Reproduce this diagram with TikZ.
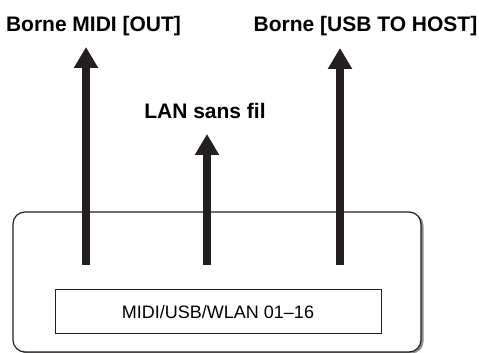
\documentclass[tikz,border=0pt]{standalone}
\usepackage{fontspec}
\setmainfont{Liberation Sans}
\usepackage{tikz}
\usetikzlibrary{arrows.meta,positioning}
\definecolor{InkDark}{RGB}{35,31,32}
\definecolor{ShadowGray}{RGB}{140,140,140}

\begin{document}
\begin{tikzpicture}[
      x=1pt,y=1pt,
      portLabel/.style={font=\fontsize{21}{24}\selectfont\bfseries,text=black,inner sep=0pt},
      panelBox/.style={draw=InkDark,fill=white,rounded corners=12pt,line width=1.2pt,
                       minimum width=408pt,minimum height=140pt,inner sep=0pt},
      chanBox/.style={draw=InkDark,fill=white,line width=1pt,
                      minimum width=326pt,minimum height=44pt,inner sep=0pt,
                      font=\fontsize{18}{21}\selectfont},
      arUp/.style={-{Triangle[width=23pt,length=21pt]},line width=7.5pt,InkDark}
    ]
    \useasboundingbox (0,0) rectangle (479,353);

    % Panel with its shadow
    \fill[ShadowGray,rounded corners=12pt] (15.5,-0.5) rectangle (423.5,139.5);
    \node(panel)[panelBox] at (217,71) {};

    % Channel display
    \node(chan)[chanBox] at (218,41) {MIDI/USB/WLAN 01–16};

    % Port labels
    \node(midiout)[portLabel] at (93.5,327) {Borne MIDI [OUT]};
    \node(usbhost)[portLabel] at (365.5,327) {Borne [USB TO HOST]};
    \node(wlan)[portLabel] at (205,242) {LAN sans fil};

    % Arrow ends
    \coordinate (midiFoot) at (86,88);
    \coordinate (midiTip) at (86,306);
    \coordinate (wlanFoot) at (207,88);
    \coordinate (wlanTip) at (207,219);
    \coordinate (usbFoot) at (340,88);
    \coordinate (usbTip) at (340,305);

    % Upward signal arrows
    \draw[arUp] (midiFoot) -- (midiTip);
    \draw[arUp] (wlanFoot) -- (wlanTip);
    \draw[arUp] (usbFoot) -- (usbTip);
  \end{tikzpicture}
\end{document}
